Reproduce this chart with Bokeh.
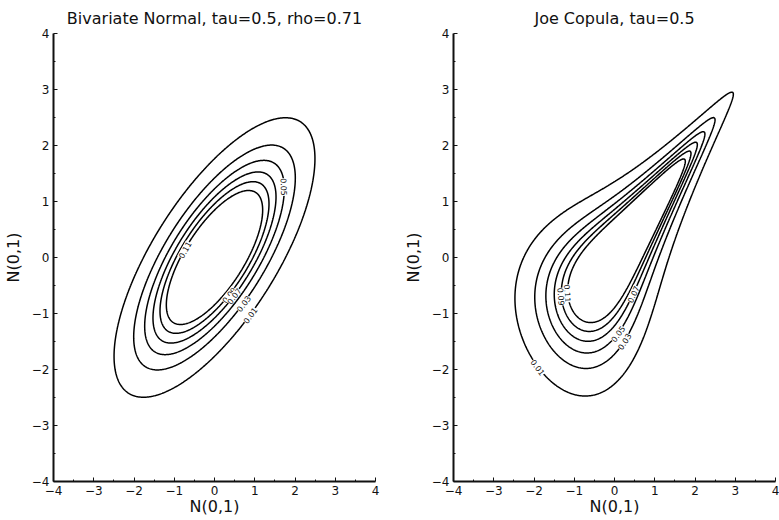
import math
import numpy as np
import contourpy
from bokeh.plotting import figure
from bokeh.layouts import row
from bokeh.models import FixedTicker, ColumnDataSource
from bokeh.embed import file_html
from bokeh.resources import INLINE
from bokeh.core.properties import value

# ---------------- data ----------------
tau = 0.5
levels = [0.01, 0.03, 0.05, 0.07, 0.09, 0.11]
axis_ticks = [-4, -3, -2, -1, 0, 1, 2, 3, 4]
minor_ticks = [-3.5, -2.5, -1.5, -0.5, 0.5, 1.5, 2.5, 3.5]
tick_labels = ["\u22124", "\u22123", "\u22122", "\u22121", "0", "1", "2", "3", "4"]
left_title = "Bivariate Normal, tau=0.5, rho=0.71"
right_title = "Joe Copula, tau=0.5"
axis_label = "N(0,1)"

# contour label anchors (level, approximate place along the contour)
normal_label_levels = [0.11, 0.09, 0.07, 0.05, 0.03, 0.01]
normal_label_x = [-0.7, 0.3, 0.45, 1.7, 0.7, 0.9]
normal_label_y = [0.1, -0.6, -0.65, 1.25, -0.8, -1.05]
joe_label_levels = [0.11, 0.09, 0.07, 0.05, 0.03, 0.01]
joe_label_x = [-1.2, -1.35, 0.45, 0.07, 0.2, -1.9]
joe_label_y = [-0.65, -0.7, -0.65, -1.35, -1.45, -1.95]

FONT = "DejaVu Sans"
FW, FH = 322, 448

# ---------------- densities ----------------
rho = math.sin(math.pi * tau / 2)

def joe_tau(th):
    s = 0.0
    for k in range(1, 20000):
        s += 1.0 / (k * (th * k + 2) * (th * (k - 1) + 2))
    return 1 - 4 * s

lo, hi = 1.0001, 20.0
for _ in range(60):
    mid = 0.5 * (lo + hi)
    if joe_tau(mid) < tau:
        lo = mid
    else:
        hi = mid
theta = 0.5 * (lo + hi)

g = np.linspace(-4, 4, 401)
X, Y = np.meshgrid(g, g)

Zn = np.exp(-(X**2 - 2 * rho * X * Y + Y**2) / (2 * (1 - rho**2))) / (2 * math.pi * math.sqrt(1 - rho**2))

erfc_v = np.vectorize(math.erfc)
ubar = 0.5 * erfc_v(X / math.sqrt(2))
vbar = 0.5 * erfc_v(Y / math.sqrt(2))
a = ubar**theta
b = vbar**theta
s = a + b - a * b
cop = s**(1 / theta - 2) * ubar**(theta - 1) * vbar**(theta - 1) * (theta - 1 + s)
phi = lambda t: np.exp(-t**2 / 2) / math.sqrt(2 * math.pi)
Zj = cop * phi(X) * phi(Y)


def label_points(Z, lv, lx, ly):
    gen = contourpy.contour_generator(g, g, Z)
    sx, sy = FW / 8.0, FH / 8.0
    xs, ys, ang, txt = [], [], [], []
    for L, ax, ay in zip(lv, lx, ly):
        best = None
        for line in gen.lines(L):
            d = (line[:, 0] - ax) ** 2 + (line[:, 1] - ay) ** 2
            i = int(np.argmin(d))
            if best is None or d[i] < best[0]:
                best = (d[i], line, i)
        _, line, i = best
        i0, i1 = max(i - 2, 0), min(i + 2, len(line) - 1)
        dx = (line[i1, 0] - line[i0, 0]) * sx
        dy = (line[i1, 1] - line[i0, 1]) * sy
        an = math.atan2(dy, dx)
        if an > math.pi / 2:
            an -= math.pi
        if an <= -math.pi / 2:
            an += math.pi
        xs.append(line[i, 0]); ys.append(line[i, 1]); ang.append(an)
        txt.append(("%.2f" % L))
    return dict(x=xs, y=ys, angle=ang, text=txt)


def make_fig(title, Z, lv, lx, ly, border_right):
    p = figure(frame_width=FW, frame_height=FH, x_range=(-4, 4), y_range=(-4, 4),
               output_backend="svg", toolbar_location=None,
               min_border_left=48, min_border_right=border_right,
               min_border_top=33, min_border_bottom=30)
    p.outline_line_color = None
    p.grid.visible = False
    p.background_fill_color = "white"
    p.border_fill_color = "white"
    p.title.text = title
    p.title.align = "center"
    p.title.text_font = FONT
    p.title.text_font_size = "16px"
    p.title.text_font_style = "normal"
    p.title.text_color = "#111111"
    p.title.standoff = 12
    for axis in (p.xaxis[0], p.yaxis[0]):
        axis.ticker = FixedTicker(ticks=axis_ticks, minor_ticks=minor_ticks)
        axis.major_label_overrides = {t: l for t, l in zip(axis_ticks, tick_labels)}
        axis.axis_line_width = 2
        axis.axis_line_color = "#111111"
        axis.major_tick_in = 4
        axis.major_tick_out = 0
        axis.minor_tick_in = 2
        axis.minor_tick_out = 0
        axis.major_tick_line_color = "#111111"
        axis.minor_tick_line_color = "#111111"
        axis.major_label_text_font = FONT
        axis.major_label_text_font_size = "12px"
        axis.major_label_text_color = "#111111"
        axis.major_label_standoff = 4
        axis.axis_label = axis_label
        axis.axis_label_text_font = FONT
        axis.axis_label_text_font_size = "16px"
        axis.axis_label_text_font_style = "normal"
        axis.axis_label_text_color = "#111111"
        axis.axis_label_standoff = -1
    p.yaxis[0].major_label_orientation = "horizontal"
    p.yaxis[0].axis_label_standoff = 6

    p.contour(g, g, Z, levels=levels, line_color="black", line_width=1.5, fill_color=None)

    src = ColumnDataSource(label_points(Z, lv, lx, ly))
    p.text(x="x", y="y", text="text", angle="angle", source=src,
           text_align="center", text_baseline="middle",
           text_font=value(FONT), text_font_size="8px", text_color="#111111",
           background_fill_color="white")
    return p


p1 = make_fig(left_title, Zn, normal_label_levels, normal_label_x, normal_label_y, 25)
p2 = make_fig(right_title, Zj, joe_label_levels, joe_label_x, joe_label_y, 4)

layout = row(p1, p2)
open("out.html", "w").write(file_html(layout, INLINE))
